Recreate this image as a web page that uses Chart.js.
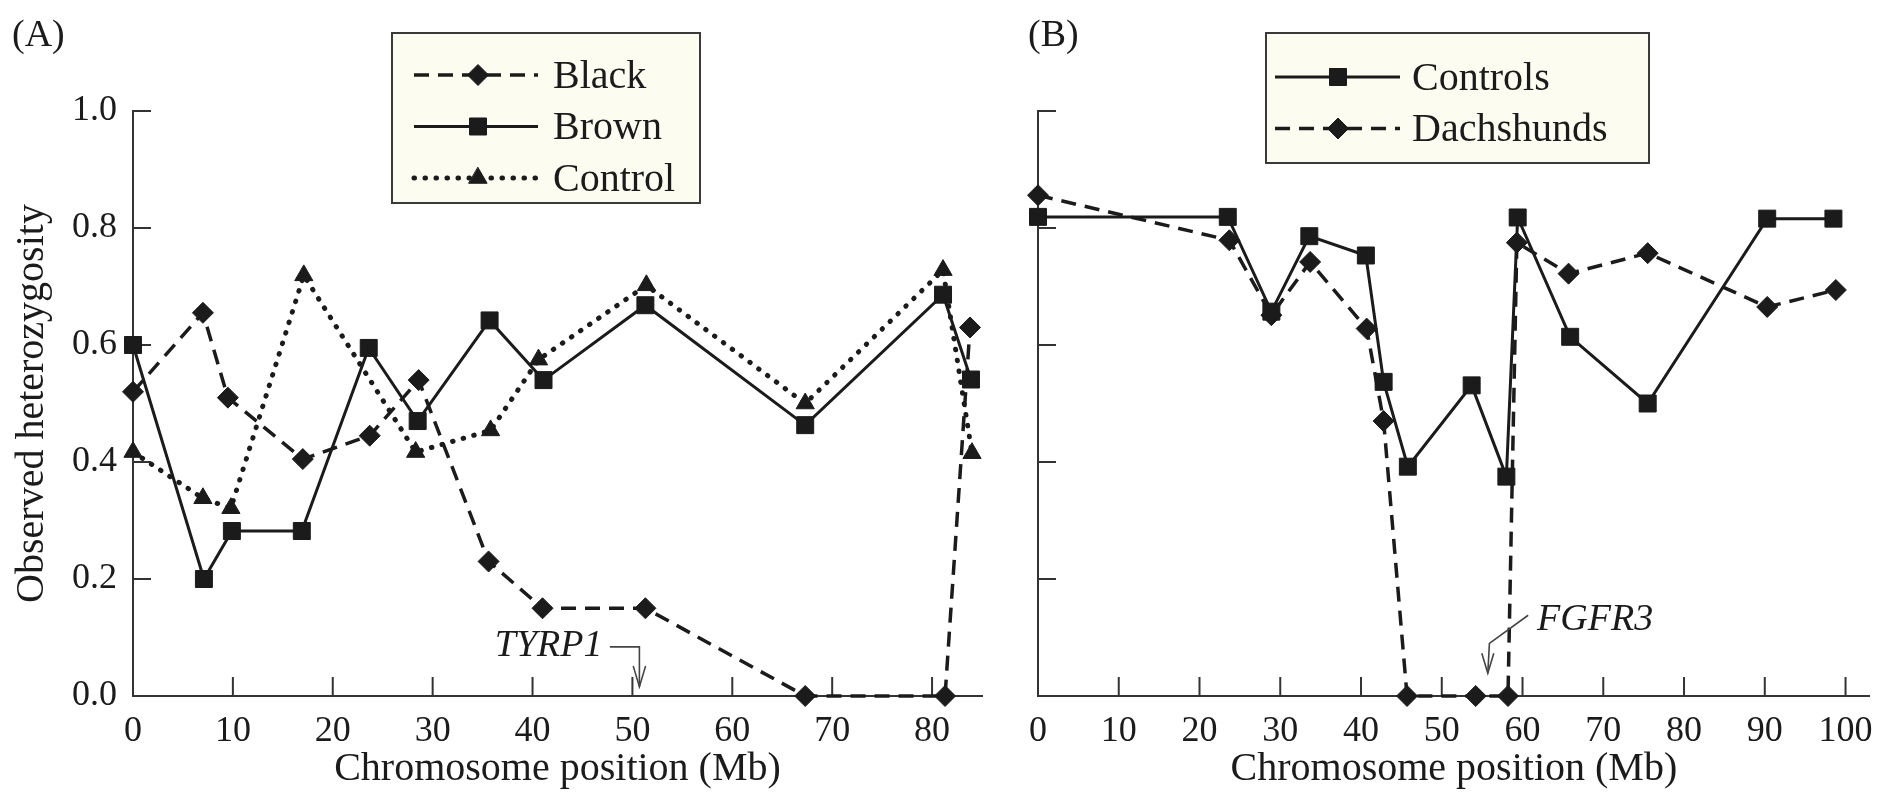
<!DOCTYPE html>
<html>
<head>
<meta charset="utf-8">
<script src="https://cdn.jsdelivr.net/npm/chart.js@4.4.0/dist/chart.umd.min.js"></script>
<style>
  html, body { margin: 0; padding: 0; background: #fff; }
  #wrap { position: relative; width: 1887px; height: 799px; overflow: hidden; }
  #panelA { position: absolute; left: 0; top: 0; }
  #panelB { position: absolute; left: 1010px; top: 0; }
</style>
</head>
<body>
<div id="wrap">
  <canvas id="panelA" width="1010" height="799"></canvas>
  <canvas id="panelB" width="877" height="799"></canvas>
</div>
<script>
// ---- panel A: coat colour groups ----
var blackPos   = [0, 7.0, 9.5, 17.0, 23.7, 28.6, 35.6, 41.0, 51.3, 67.3, 81.3, 83.8];
var blackHet   = [0.52, 0.655, 0.51, 0.405, 0.445, 0.54, 0.23, 0.15, 0.15, 0, 0, 0.63];
var brownPos   = [0, 7.1, 9.9, 16.9, 23.6, 28.5, 35.7, 41.1, 51.3, 67.3, 81.1, 83.9];
var brownHet   = [0.60, 0.20, 0.282, 0.282, 0.595, 0.47, 0.642, 0.54, 0.668, 0.463, 0.686, 0.541];
var controlPos = [0, 7.0, 9.8, 17.1, 28.3, 35.8, 40.6, 51.4, 67.3, 81.1, 84.0];
var controlHet = [0.417, 0.338, 0.321, 0.719, 0.417, 0.454, 0.575, 0.702, 0.50, 0.728, 0.415];

// ---- panel B: dachshunds vs controls ----
var controlsPosB = [0, 23.5, 28.9, 33.6, 40.6, 42.8, 45.8, 53.7, 58.0, 59.4, 65.9, 75.5, 90.3, 98.5];
var controlsHetB = [0.819, 0.819, 0.657, 0.786, 0.753, 0.537, 0.392, 0.531, 0.375, 0.818, 0.614, 0.50, 0.816, 0.816];
var dachsPos     = [0, 23.7, 28.9, 33.7, 40.7, 42.8, 45.7, 54.2, 58.2, 59.3, 65.7, 75.5, 90.3, 98.8];
var dachsHet     = [0.856, 0.779, 0.651, 0.742, 0.628, 0.47, 0, 0, 0, 0.775, 0.722, 0.757, 0.665, 0.694];

var xTicksA = [0, 10, 20, 30, 40, 50, 60, 70, 80];
var xTicksB = [0, 10, 20, 30, 40, 50, 60, 70, 80, 90, 100];
var yTicks  = [0, 0.2, 0.4, 0.6, 0.8, 1.0];

var FONT = '"Liberation Serif", "DejaVu Serif", serif';
var INK = '#1b1b1b';
var AXIS = '#333333';

function pts(xs, ys) {
    return xs.map(function (x, i) { return { x: x, y: ys[i] }; });
}

function lineSet(label, xs, ys, kind) {
    var ds = {
        label: label,
        data: pts(xs, ys),
        borderColor: INK,
        backgroundColor: INK,
        pointBackgroundColor: INK,
        pointBorderColor: INK,
        pointBorderWidth: 1,
        tension: 0,
        clip: false
    };
    if (kind === 'dash') {
        ds.borderWidth = 3.5; ds.borderDash = [15, 9];
        ds.pointStyle = 'rectRot'; ds.pointRadius = 10.5;
    } else if (kind === 'dot') {
        ds.borderWidth = 5; ds.borderDash = [0.5, 10.5]; ds.borderCapStyle = 'round';
        ds.pointStyle = 'triangle'; ds.pointRadius = 10.5;
    } else {
        ds.borderWidth = 3;
        ds.pointStyle = 'rect'; ds.pointRadius = 12;
    }
    ds.pointHoverRadius = ds.pointRadius;
    return ds;
}

function drawMarker(ctx, style, r, x, y) {
    ctx.beginPath();
    if (style === 'rect') {
        var s = Math.SQRT1_2 * r;
        ctx.rect(x - s, y - s, 2 * s, 2 * s);
    } else if (style === 'rectRot') {
        ctx.moveTo(x, y - r); ctx.lineTo(x + r, y); ctx.lineTo(x, y + r); ctx.lineTo(x - r, y);
        ctx.closePath();
    } else {
        for (var k = 0; k < 3; k++) {
            var a = k * 2 * Math.PI / 3;
            var px = x + Math.sin(a) * r, py = y - Math.cos(a) * r;
            if (k === 0) ctx.moveTo(px, py); else ctx.lineTo(px, py);
        }
        ctx.closePath();
    }
    ctx.fill();
    ctx.stroke();
}

// inward tick marks on both axes
var inwardTicks = {
    id: 'inwardTicks',
    beforeDatasetsDraw: function (chart) {
        var ctx = chart.ctx, sx = chart.scales.x, sy = chart.scales.y;
        ctx.save();
        ctx.strokeStyle = AXIS;
        ctx.lineWidth = 2;
        ctx.beginPath();
        sx.ticks.forEach(function (t) {
            if (t.value === 0) return;
            var px = sx.getPixelForValue(t.value);
            ctx.moveTo(px, sy.bottom);
            ctx.lineTo(px, sy.bottom - 19);
        });
        sy.ticks.forEach(function (t) {
            if (t.value === 0) return;
            var py = sy.getPixelForValue(t.value);
            ctx.moveTo(sx.left, py);
            ctx.lineTo(sx.left + 18, py);
        });
        ctx.stroke();
        ctx.restore();
    }
};

// boxed legend + panel letter + gene arrow
var decorations = {
    id: 'decorations',
    afterDraw: function (chart, args, o) {
        var ctx = chart.ctx, sx = chart.scales.x, sy = chart.scales.y;
        ctx.save();

        // panel letter
        ctx.fillStyle = INK;
        ctx.font = '38px ' + FONT;
        ctx.textBaseline = 'middle';
        ctx.textAlign = 'left';
        ctx.fillText(o.letter, o.letterX, 36);

        // legend box
        var b = o.box;
        ctx.fillStyle = '#fcfcf1';
        ctx.fillRect(b.x, b.y, b.w, b.h);
        ctx.strokeStyle = '#3a3a3a';
        ctx.lineWidth = 2;
        ctx.strokeRect(b.x, b.y, b.w, b.h);
        chart.data.datasets.forEach(function (ds, i) {
            var cy = b.y + b.row0 + i * b.gap;
            ctx.strokeStyle = INK;
            ctx.lineWidth = ds.borderWidth;
            ctx.lineCap = ds.borderCapStyle || 'butt';
            ctx.setLineDash(ds.borderDash || []);
            ctx.beginPath();
            ctx.moveTo(b.x + b.l0, cy);
            ctx.lineTo(b.x + b.l1, cy);
            ctx.stroke();
            ctx.setLineDash([]);
            ctx.lineWidth = 1;
            ctx.fillStyle = INK;
            drawMarker(ctx, ds.pointStyle, ds.pointRadius, b.x + b.mk, cy);
            ctx.font = '40px ' + FONT;
            ctx.textAlign = 'left';
            ctx.textBaseline = 'middle';
            ctx.fillText(ds.label, b.x + b.tx, cy + 2);
        });

        // gene marker
        var g = o.gene;
        ctx.strokeStyle = '#444';
        ctx.lineWidth = 1.6;
        ctx.beginPath();
        g.path.forEach(function (p, i) {
            var px = sx.getPixelForValue(p[0]), py = sy.getPixelForValue(p[1]);
            if (i === 0) ctx.moveTo(px, py); else ctx.lineTo(px, py);
        });
        ctx.stroke();
        var tip = g.path[g.path.length - 1];
        var tx = sx.getPixelForValue(tip[0]), ty = sy.getPixelForValue(tip[1]);
        ctx.beginPath();
        ctx.moveTo(tx - 6, ty - 20);
        ctx.lineTo(tx, ty);
        ctx.lineTo(tx + 6, ty - 20);
        ctx.stroke();
        ctx.fillStyle = INK;
        ctx.font = 'italic 38px ' + FONT;
        ctx.textAlign = g.align;
        ctx.textBaseline = 'middle';
        ctx.fillText(g.text, sx.getPixelForValue(g.at[0]), sy.getPixelForValue(g.at[1]));
        ctx.restore();
    }
};

function makeChart(id, datasets, xMax, xTicks, yWidth, padRight, showY, deco) {
    return new Chart(document.getElementById(id), {
        type: 'line',
        data: { datasets: datasets },
        plugins: [inwardTicks, decorations],
        options: {
            responsive: false,
            animation: false,
            events: [],
            layout: { padding: { left: 0, right: padRight, top: 111, bottom: 0 } },
            plugins: {
                legend: { display: false },
                tooltip: { enabled: false },
                decorations: deco
            },
            scales: {
                x: {
                    type: 'linear',
                    min: 0,
                    max: xMax,
                    afterBuildTicks: function (s) { s.ticks = xTicks.map(function (v) { return { value: v }; }); },
                    afterFit: function (s) { s.height = 103; },
                    grid: { display: false, drawTicks: false },
                    border: { display: true, color: AXIS, width: 2 },
                    ticks: {
                        color: INK, padding: 14, maxRotation: 0, autoSkip: false,
                        font: { family: FONT, size: 36 }
                    },
                    title: {
                        display: true, text: 'Chromosome position (Mb)', color: INK,
                        font: { family: FONT, size: 40 }, padding: { top: 0, bottom: 6 }
                    }
                },
                y: {
                    type: 'linear',
                    min: 0,
                    max: 1,
                    afterBuildTicks: function (s) { s.ticks = yTicks.map(function (v) { return { value: v }; }); },
                    afterFit: function (s) { s.width = yWidth; },
                    grid: { display: false, drawTicks: false },
                    border: { display: true, color: AXIS, width: 2 },
                    ticks: {
                        display: showY, color: INK, padding: 16,
                        font: { family: FONT, size: 36 },
                        callback: function (v) { return Number(v).toFixed(1); }
                    },
                    title: {
                        display: showY, text: 'Observed heterozygosity', color: INK,
                        font: { family: FONT, size: 40 }, padding: { top: 8, bottom: 0 }
                    }
                }
            }
        }
    });
}

makeChart('panelA', [
    lineSet('Black', blackPos, blackHet, 'dash'),
    lineSet('Brown', brownPos, brownHet, 'solid'),
    lineSet('Control', controlPos, controlHet, 'dot')
], 85, xTicksA, 133, 28, true, {
    letter: '(A)', letterX: 12,
    box: { x: 392, y: 33, w: 308, h: 170, row0: 42, gap: 51.5, l0: 22, l1: 146, mk: 86, tx: 161 },
    gene: { text: 'TYRP1', align: 'right', at: [47.0, 0.085],
            path: [[47.8, 0.084], [50.7, 0.084], [50.7, 0.016]] }
});

makeChart('panelB', [
    lineSet('Controls', controlsPosB, controlsHetB, 'solid'),
    lineSet('Dachshunds', dachsPos, dachsHet, 'dash')
], 103, xTicksB, 28, 16, false, {
    letter: '(B)', letterX: 18,
    box: { x: 256, y: 33, w: 383, h: 130, row0: 44, gap: 51.5, l0: 9, l1: 134, mk: 72, tx: 146 },
    gene: { text: 'FGFR3', align: 'left', at: [61.8, 0.13],
            path: [[60.7, 0.138], [55.9, 0.09], [55.7, 0.039]] }
});
</script>
</body>
</html>
